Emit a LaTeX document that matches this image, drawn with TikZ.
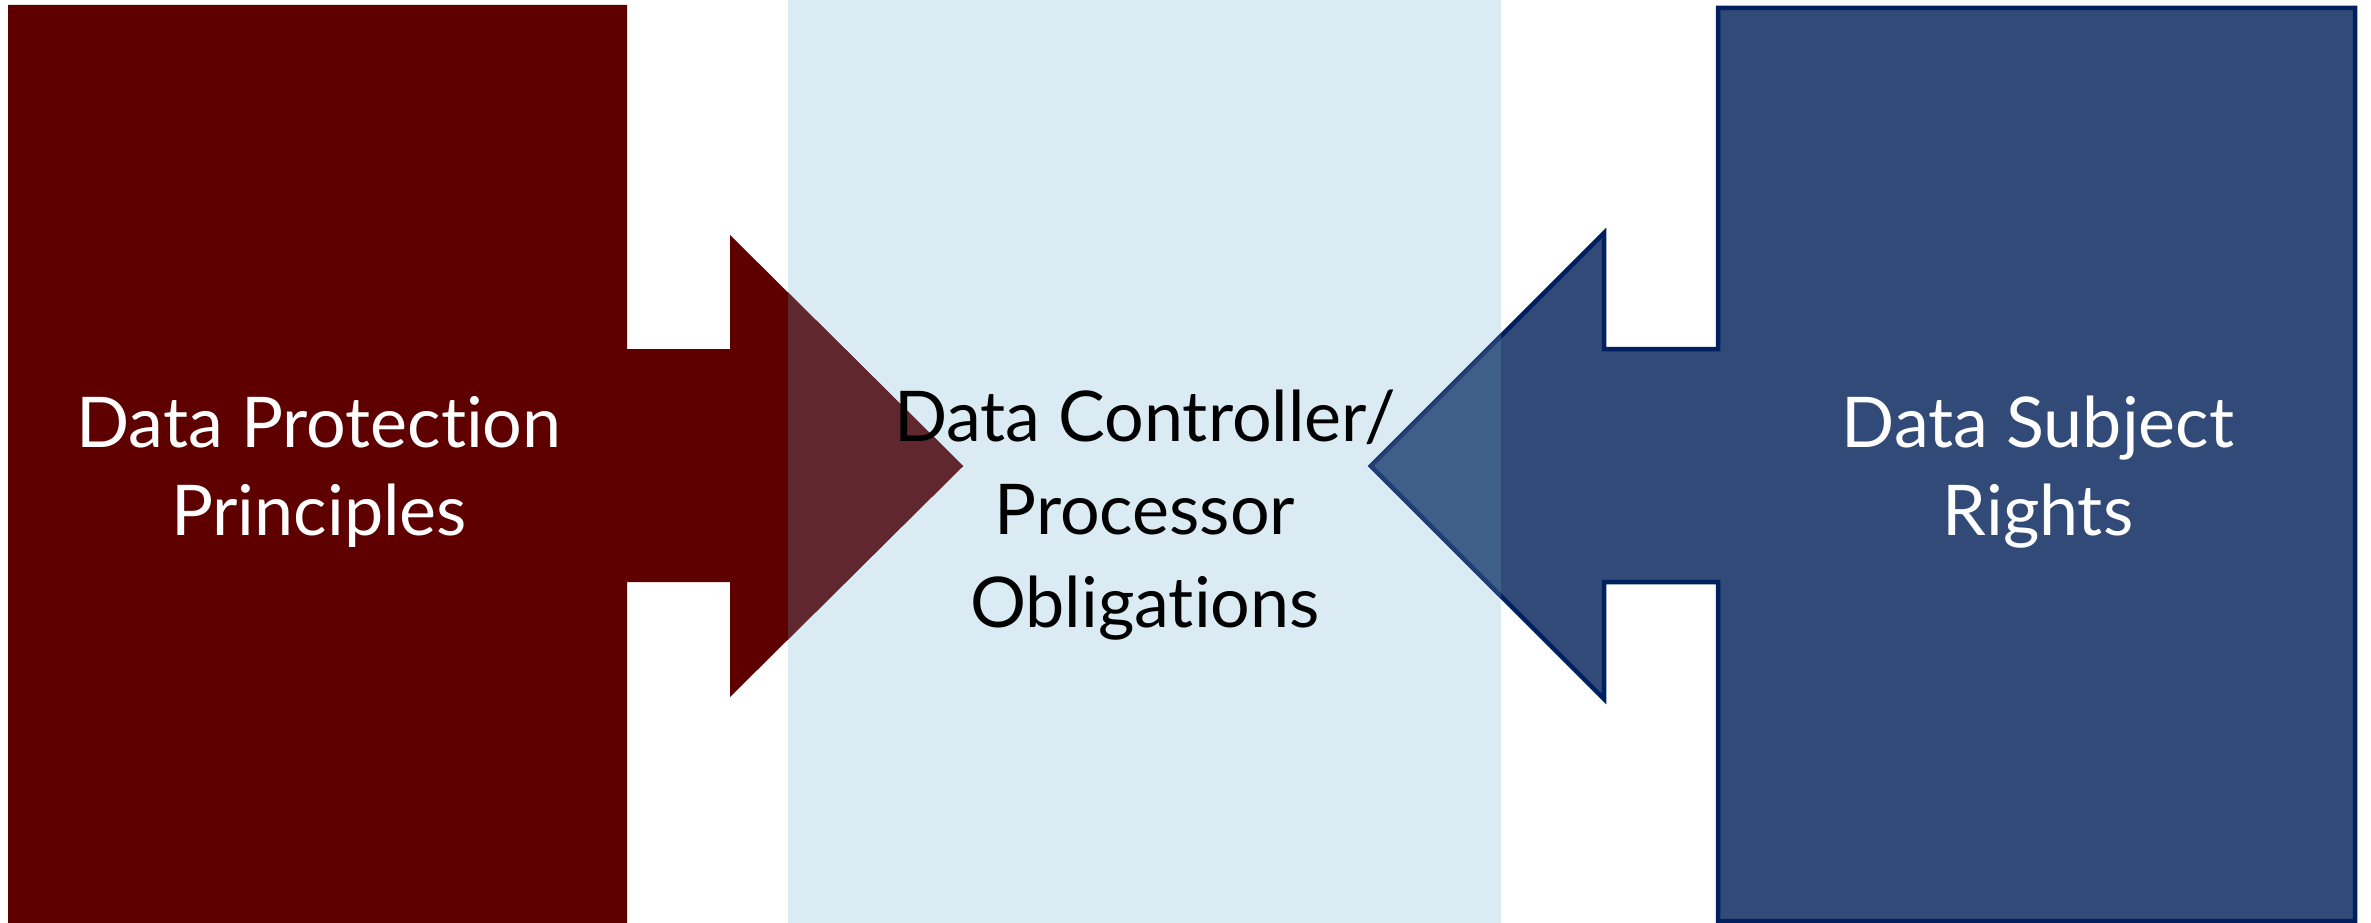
\documentclass[tikz,border=0pt]{standalone}
\usepackage{fontspec}
\setmainfont[Ligatures=NoCommon]{Lato}
\definecolor{darkred}{RGB}{94,0,0}
\definecolor{redover}{RGB}{96,40,46}
\definecolor{navyfill}{RGB}{49,74,119}
\definecolor{navyline}{RGB}{0,32,96}
\definecolor{blueover}{RGB}{62,96,136}
\definecolor{lightbg}{RGB}{219,235,243}
\tikzset{
  lbl/.style={anchor=base, inner sep=0pt, font=\fontsize{70}{84}\selectfont},
  whitelbl/.style={lbl, text=white},
  blacklbl/.style={lbl, text=black},
}
\begin{document}
\begin{tikzpicture}[x=1pt,y=-1pt]
\useasboundingbox (0,0) rectangle (2371,923);
\fill[white] (0,0) rectangle (2371,923);
% middle panel
\fill[lightbg] (788,0) rectangle (1501,923);
% shapes
\def\leftshape{(8,5) -- (627,5) -- (627,349) -- (730,349) -- (730,235) -- (963,466) -- (730,697) -- (730,582) -- (627,582) -- (627,923) -- (8,923) -- cycle}
\def\rightshape{(2355,8) -- (2355,921) -- (1718,921) -- (1718,582) -- (1604,582) -- (1604,699) -- (1371,466) -- (1604,233) -- (1604,349) -- (1718,349) -- (1718,8) -- cycle}
\fill[darkred] \leftshape;
\filldraw[fill=navyfill, draw=navyline, line width=4.5pt, line join=miter] \rightshape;
\begin{scope}
  \clip (788,0) rectangle (1501,923);
  \fill[redover] \leftshape;
  \filldraw[fill=blueover, draw=navyline!85!lightbg, line width=4.5pt, line join=miter] \rightshape;
\end{scope}
% labels
\node[whitelbl] (l1) at (319,447) {Data Protection};
\node[whitelbl] (l2) at (319,535) {Principles};
\node[blacklbl] (c1) at (1145,441) {Data Controller/};
\node[blacklbl] (c2) at (1145,534) {Processor};
\node[blacklbl] (c3) at (1145,627) {Obligations};
\node[whitelbl] (r1) at (2038,447) {Data Subject};
\node[whitelbl] (r2) at (2038,535) {Rights};
\end{tikzpicture}
\end{document}
